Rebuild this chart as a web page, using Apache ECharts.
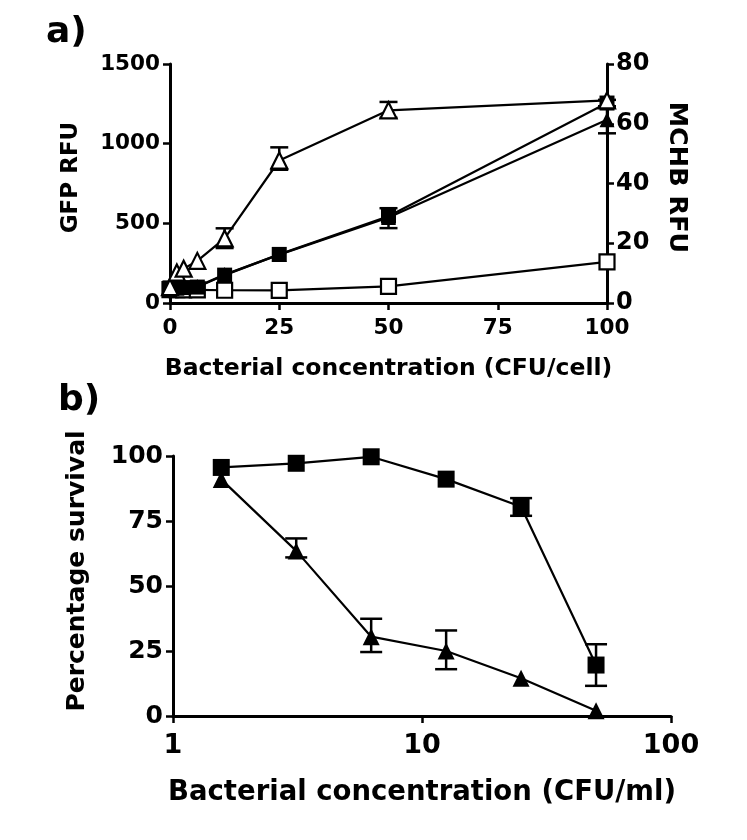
<!DOCTYPE html>
<html>
<head>
<meta charset="utf-8">
<script src="https://cdn.jsdelivr.net/npm/echarts@6/dist/echarts.min.js"></script>
<style>
html,body{margin:0;padding:0;background:#fff;}
#chart{width:747px;height:840px;}
</style>
</head>
<body>
<div id="chart"></div>
<script>
// ---------- Panel a) data ----------
const xTop = [0, 1.5625, 3.125, 6.25, 12.5, 25, 50, 100];
const xTopTicks = [0, 25, 50, 75, 100];
const gfpTicks = [0, 500, 1000, 1500];
const mchbTicks = [0, 20, 40, 60, 80];
// GFP RFU (left axis)
const gfpFilledSquare = [95, 95, 97, 100, 175, 305, 545, 1255];
const gfpFilledSquareLow = [null, null, null, null, null, null, 470, 1235];
const gfpFilledSquareHigh = [null, null, null, null, null, null, 595, 1275];
const gfpOpenSquare = [84, 84, 83, 82, 80, 79, 104, 258];
// MCHB RFU (right axis)
const mchbOpenTriangle = [5.3, 10.2, 11.5, 14.1, 21.6, 47.7, 64.5, 67.8];
const mchbOpenTriangleLow = [null, null, null, null, 18.4, 44.6, 62.0, null];
const mchbOpenTriangleHigh = [null, null, null, null, 25.0, 52.1, 67.3, null];
const mchbFilledTriangle = [5.0, 5.0, 5.2, 5.5, 9.5, 16.2, 28.6, 61.3];
const mchbFilledTriangleLow = [null, null, null, null, null, null, null, 56.8];
const mchbFilledTriangleHigh = [null, null, null, null, null, null, null, 65.5];

// ---------- Panel b) data ----------
const xBot = [1.5625, 3.125, 6.25, 12.5, 25, 50];
const survTicks = [0, 25, 50, 75, 100];
const survSquare = [95.6, 97.2, 99.7, 91.1, 80.5, 19.6];
const survSquareLow = [null, null, null, null, 77.0, 11.6];
const survSquareHigh = [null, null, null, null, 83.8, 27.6];
const survTriangle = [91.0, 63.5, 30.5, 25.0, 14.5, 2.0];
const survTriangleLow = [null, 61.0, 24.6, 18.0, null, null];
const survTriangleHigh = [null, 68.3, 37.4, 32.9, null, null];

const FONT = 'DejaVu Sans';
const BLACK = '#000';

function pairs(xs, ys) { return xs.map((x, i) => [x, ys[i]]); }
function errData(xs, lo, hi) {
  const out = [];
  xs.forEach((x, i) => { if (lo[i] != null && hi[i] != null) out.push([x, lo[i], hi[i]]); });
  return out;
}
function errSeries(xs, lo, hi, xi, yi, cap) {
  return {
    type: 'custom', xAxisIndex: xi, yAxisIndex: yi, z: 1, silent: true,
    data: errData(xs, lo, hi),
    renderItem: function (params, api) {
      const x = api.value(0);
      const pL = api.coord([x, api.value(1)]);
      const pH = api.coord([x, api.value(2)]);
      const st = { stroke: BLACK, lineWidth: 2.5 };
      return { type: 'group', children: [
        { type: 'line', shape: { x1: pL[0], y1: pL[1], x2: pH[0], y2: pH[1] }, style: st },
        { type: 'line', shape: { x1: pH[0] - cap, y1: pH[1], x2: pH[0] + cap, y2: pH[1] }, style: st },
        { type: 'line', shape: { x1: pL[0] - cap, y1: pL[1], x2: pL[0] + cap, y2: pL[1] }, style: st }
      ]};
    }
  };
}
function lineSeries(xs, ys, xi, yi, symbol, size, filled) {
  return {
    type: 'line', xAxisIndex: xi, yAxisIndex: yi, z: 3,
    data: pairs(xs, ys), symbol: symbol, symbolSize: size, showSymbol: true,
    lineStyle: { color: BLACK, width: 2.2 },
    itemStyle: { color: filled ? BLACK : '#fff', borderColor: BLACK, borderWidth: filled ? 0 : 2.2 },
    animation: false
  };
}
const plain = v => String(v);
const axisLine = { show: true, lineStyle: { color: BLACK, width: 3 } };
const axisTick = { show: true, inside: false, length: 7, lineStyle: { color: BLACK, width: 2.5 } };
function txt(size) { return { color: BLACK, fontFamily: FONT, fontWeight: 'bold', fontSize: size }; }

const chart = echarts.init(document.getElementById('chart'), null, { renderer: 'canvas' });
chart.setOption({
  animation: false,
  backgroundColor: '#fff',
  grid: [
    { left: 170, top: 64, width: 437, height: 239 },
    { left: 173, top: 456, width: 498, height: 260 }
  ],
  xAxis: [
    { gridIndex: 0, type: 'value', min: xTopTicks[0], max: xTopTicks[xTopTicks.length - 1], interval: 25,
      name: 'Bacterial concentration (CFU/cell)', nameLocation: 'middle', nameGap: 54, nameTextStyle: txt(23.5),
      axisLine: axisLine, axisTick: axisTick, splitLine: { show: false },
      axisLabel: Object.assign({ margin: 14, formatter: plain }, txt(21.5)) },
    { gridIndex: 1, type: 'log', logBase: 10, min: 1, max: 100,
      name: 'Bacterial concentration (CFU/ml)', nameLocation: 'middle', nameGap: 63, nameTextStyle: txt(27.5),
      axisLine: axisLine, axisTick: axisTick, minorTick: { show: false }, splitLine: { show: false },
      axisLabel: Object.assign({ margin: 16, formatter: plain }, txt(27)) }
  ],
  yAxis: [
    { gridIndex: 0, type: 'value', position: 'left', min: gfpTicks[0], max: gfpTicks[gfpTicks.length - 1], interval: 500,
      name: 'GFP RFU', nameLocation: 'middle', nameGap: 87, nameRotate: 90,
      nameTextStyle: Object.assign({ padding: [0, 0, 0, 12] }, txt(23)),
      axisLine: axisLine, axisTick: axisTick, splitLine: { show: false },
      axisLabel: Object.assign({ margin: 10, formatter: plain }, txt(21.5)) },
    { gridIndex: 0, type: 'value', position: 'right', min: mchbTicks[0], max: mchbTicks[mchbTicks.length - 1], interval: 20,
      name: 'MCHB RFU', nameLocation: 'middle', nameGap: 57, nameRotate: -90,
      nameTextStyle: Object.assign({ padding: [0, 12, 0, 0] }, txt(25.5)),
      axisLine: axisLine, axisTick: axisTick, splitLine: { show: false },
      axisLabel: Object.assign({ margin: 9, formatter: plain }, txt(24)) },
    { gridIndex: 1, type: 'value', position: 'left', min: survTicks[0], max: survTicks[survTicks.length - 1], interval: 25,
      name: 'Percentage survival', nameLocation: 'middle', nameGap: 83, nameRotate: 90,
      nameTextStyle: Object.assign({ padding: [0, 0, 0, 30] }, txt(25)),
      axisLine: axisLine, axisTick: axisTick, splitLine: { show: false },
      axisLabel: Object.assign({ margin: 10, formatter: plain }, txt(25)) }
  ],
  graphic: [
    { type: 'text', left: 46, top: 15, style: { text: 'a)', fill: BLACK, font: 'bold 36px "DejaVu Sans"' } },
    { type: 'text', left: 58, top: 383, style: { text: 'b)', fill: BLACK, font: 'bold 36px "DejaVu Sans"' } }
  ],
  series: [
    errSeries(xTop, gfpFilledSquareLow, gfpFilledSquareHigh, 0, 0, 9),
    errSeries(xTop, mchbOpenTriangleLow, mchbOpenTriangleHigh, 0, 1, 9),
    errSeries(xTop, mchbFilledTriangleLow, mchbFilledTriangleHigh, 0, 1, 9),
    lineSeries(xTop, gfpOpenSquare, 0, 0, 'rect', 15, false),
    lineSeries(xTop, mchbFilledTriangle, 0, 1, 'triangle', 15, true),
    lineSeries(xTop, gfpFilledSquare, 0, 0, 'rect', 15, true),
    lineSeries(xTop, mchbOpenTriangle, 0, 1, 'triangle', 16, false),
    errSeries(xBot, survSquareLow, survSquareHigh, 1, 2, 11),
    errSeries(xBot, survTriangleLow, survTriangleHigh, 1, 2, 11),
    lineSeries(xBot, survSquare, 1, 2, 'rect', 17, true),
    lineSeries(xBot, survTriangle, 1, 2, 'triangle', 17, true)
  ]
});
</script>
</body>
</html>
